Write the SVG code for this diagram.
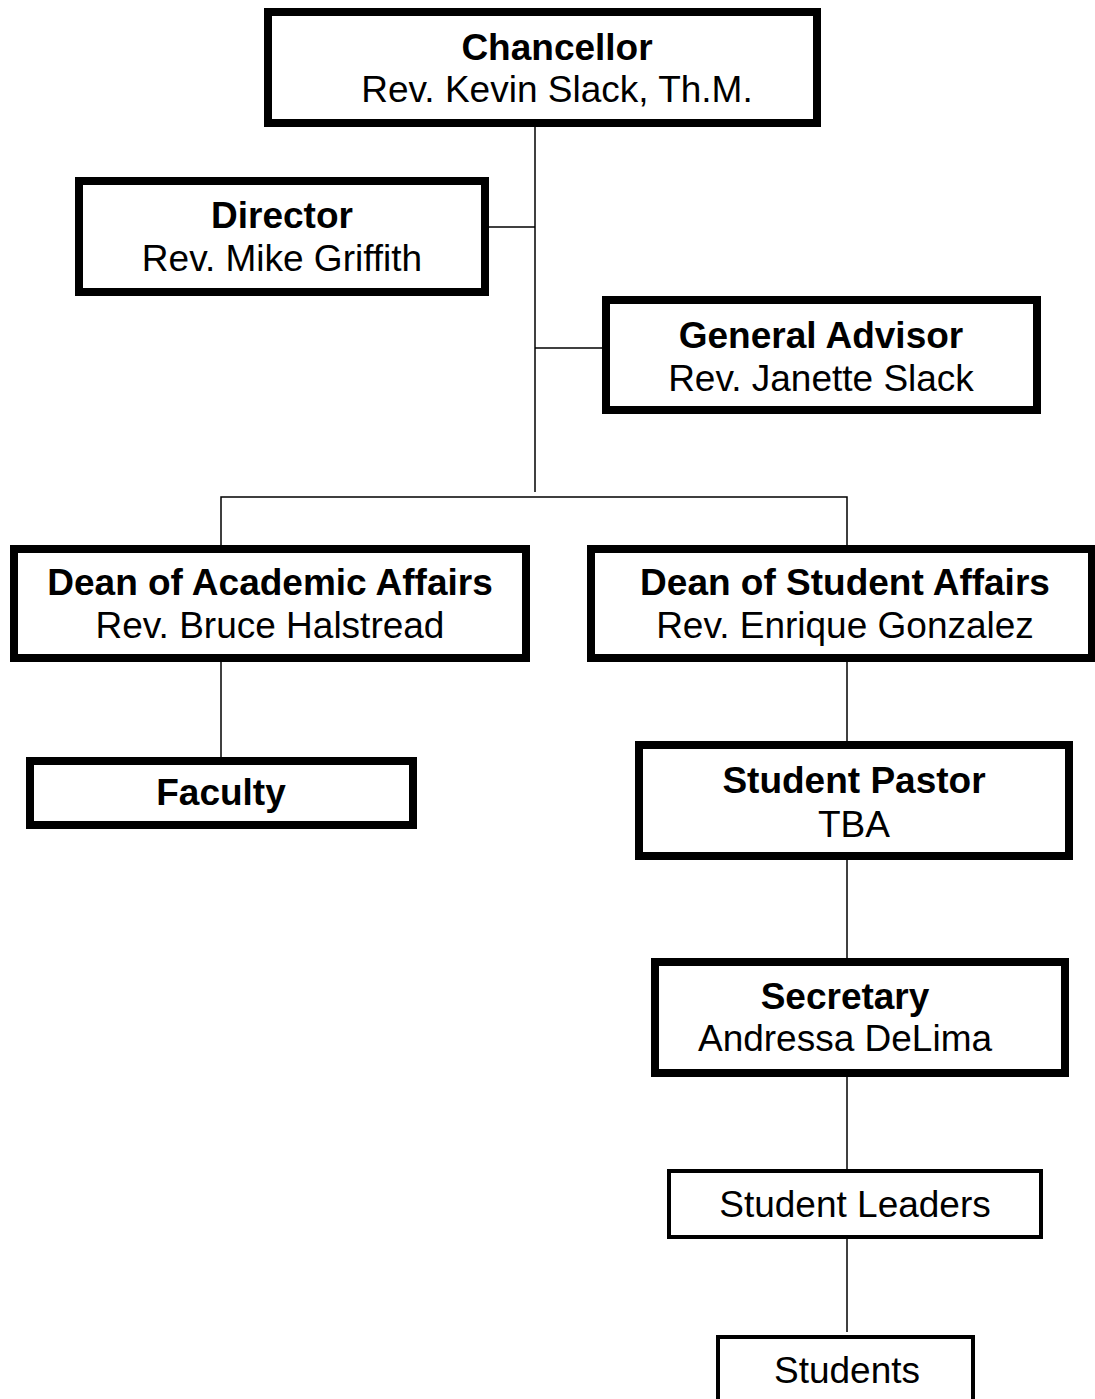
<svg xmlns="http://www.w3.org/2000/svg" width="1095" height="1399" viewBox="0 0 1095 1399">
<style>
.box{fill:#fff;stroke:#000;stroke-width:8}
.thin{fill:#fff;stroke:#000;stroke-width:4}
.t{font-family:"Liberation Sans",Arial,sans-serif;font-size:37px;text-anchor:middle;fill:#000}
.b{font-weight:bold}
.c{stroke:#000;stroke-width:1.5;fill:none}
</style>
<rect width="1095" height="1399" fill="#fff"/>
<g id="connectors">
<path class="c" d="M535,127 V492"/>
<path class="c" d="M489,227 H535"/>
<path class="c" d="M535,348 H602"/>
<path class="c" d="M221,545 V497 H847 V545"/>
<path class="c" d="M221,662 V757"/>
<path class="c" d="M847,662 V741"/>
<path class="c" d="M847,860 V958"/>
<path class="c" d="M847,1077 V1169"/>
<path class="c" d="M847,1239 V1332"/>
</g>
<g id="chancellor">
<rect class="box" x="268" y="12" width="549" height="111"/>
<text class="t b" x="557" y="60">Chancellor</text>
<text class="t" x="557" y="102">Rev. Kevin Slack, Th.M.</text>
</g>
<g id="director">
<rect class="box" x="79" y="181" width="406" height="111"/>
<text class="t b" x="282" y="228">Director</text>
<text class="t" x="282" y="271">Rev. Mike Griffith</text>
</g>
<g id="general-advisor">
<rect class="box" x="606" y="300" width="431" height="110"/>
<text class="t b" x="821" y="348">General Advisor</text>
<text class="t" x="821" y="391">Rev. Janette Slack</text>
</g>
<g id="dean-academic">
<rect class="box" x="14" y="549" width="512" height="109"/>
<text class="t b" x="270" y="595">Dean of Academic Affairs</text>
<text class="t" x="270" y="638">Rev. Bruce Halstread</text>
</g>
<g id="dean-student">
<rect class="box" x="591" y="549" width="501" height="109"/>
<text class="t b" x="845" y="595">Dean of Student Affairs</text>
<text class="t" x="845" y="638">Rev. Enrique Gonzalez</text>
</g>
<g id="faculty">
<rect class="box" x="30" y="761" width="383" height="64"/>
<text class="t b" x="221" y="805">Faculty</text>
</g>
<g id="student-pastor">
<rect class="box" x="639" y="745" width="430" height="111"/>
<text class="t b" x="854" y="793">Student Pastor</text>
<text class="t" x="854" y="837">TBA</text>
</g>
<g id="secretary">
<rect class="box" x="655" y="962" width="410" height="111"/>
<text class="t b" x="845" y="1009">Secretary</text>
<text class="t" x="845" y="1051">Andressa DeLima</text>
</g>
<g id="student-leaders">
<rect class="thin" x="669" y="1171" width="372" height="66"/>
<text class="t" x="855" y="1217">Student Leaders</text>
</g>
<g id="students">
<rect class="thin" x="718" y="1337" width="255" height="80"/>
<text class="t" x="847" y="1383">Students</text>
</g>
</svg>
